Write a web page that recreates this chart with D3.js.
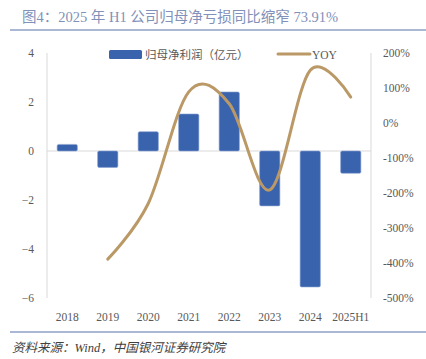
<!DOCTYPE html>
<html><head><meta charset="utf-8">
<script src="https://cdn.jsdelivr.net/npm/d3@7"></script>
<style>body{margin:0;background:#fff}svg{display:block}</style>
</head><body>
<script>
const categories = ["2018","2019","2020","2021","2022","2023","2024","2025H1"];
const profit = [0.27,-0.67,0.79,1.51,2.41,-2.24,-5.55,-0.91];
const yoy = [null,-389,-230,89,55,-191,151,74];
const leftTicks = [4,2,0,-2,-4,-6];
const rightTicks = [200,100,0,-100,-200,-300,-400,-500];

const W=426,H=359;
const svg=d3.select("body").append("svg").attr("width",W).attr("height",H);
const serif='"Liberation Serif","Noto Sans CJK SC",serif';

svg.append("text").attr("x",22).attr("y",22).attr("fill","#8291b9")
  .attr("font-family",serif).attr("font-size",14.5).text("图4：2025 年 H1 公司归母净亏损同比缩窄 73.91%");
svg.append("line").attr("x1",10).attr("x2",W).attr("y1",30).attr("y2",30).attr("stroke","#8ea0c8").attr("stroke-width",1.5);

const x=d3.scaleBand().domain(categories).range([47,371]).paddingInner(0.5).paddingOuter(0.25);
const y=d3.scaleLinear().domain([-6,4]).range([298,53]);
const y2=d3.scaleLinear().domain([-500,200]).range([298,53]);

// axis lines
svg.append("line").attr("x1",47).attr("x2",47).attr("y1",53).attr("y2",298).attr("stroke","#d9d9d9");
svg.append("line").attr("x1",371).attr("x2",371).attr("y1",53).attr("y2",298).attr("stroke","#d9d9d9");
svg.append("line").attr("x1",47).attr("x2",371).attr("y1",y(0)).attr("y2",y(0)).attr("stroke","#d9d9d9");

const lAxis=svg.append("g").attr("transform","translate(34,0)")
  .call(d3.axisLeft(y).tickValues(leftTicks).tickSize(0).tickPadding(0).tickFormat(d3.format("d")));
const rAxis=svg.append("g").attr("transform","translate(383,0)")
  .call(d3.axisRight(y2).tickValues(rightTicks).tickSize(0).tickPadding(0).tickFormat(d=>d+"%"));
const xAxis=svg.append("g").attr("transform","translate(0,305)")
  .call(d3.axisBottom(x).tickSize(0).tickPadding(8));
[lAxis,rAxis,xAxis].forEach(g=>{g.select(".domain").remove();
  g.selectAll("text").attr("font-family",serif).attr("font-size",11.5).attr("fill","#595959");});

svg.append("g").selectAll("rect").data(profit).join("rect")
  .attr("x",(d,i)=>x(categories[i])).attr("width",x.bandwidth())
  .attr("y",d=>y(Math.max(0,d))).attr("height",d=>Math.abs(y(d)-y(0)))
  .attr("rx",1.5).attr("fill","#3a63ae").attr("stroke","#8aa3d3").attr("stroke-width",0.6);

const line=d3.line().defined(d=>d!=null)
  .x((d,i)=>x(categories[i])+x.bandwidth()/2).y(d=>y2(d)).curve(d3.curveCardinal.tension(0));
svg.append("path").datum(yoy).attr("d",line).attr("fill","none").attr("stroke","#bb9966").attr("stroke-width",3).attr("stroke-linecap","round");

// legend
svg.append("rect").attr("x",109).attr("y",50).attr("width",33).attr("height",9).attr("rx",1.5).attr("fill","#3a63ae");
svg.append("text").attr("x",145).attr("y",58.5).attr("font-family",serif).attr("font-size",11.5).attr("fill","#595959").text("归母净利润（亿元）");
svg.append("line").attr("x1",278).attr("x2",310).attr("y1",54).attr("y2",54).attr("stroke","#bb9966").attr("stroke-width",3).attr("stroke-linecap","round");
svg.append("text").attr("x",312).attr("y",58.5).attr("font-family",serif).attr("font-size",11.5).attr("fill","#595959").text("YOY");

svg.append("line").attr("x1",10).attr("x2",W).attr("y1",332).attr("y2",332).attr("stroke","#8ea0c8").attr("stroke-width",1.5);
svg.append("text").attr("x",12).attr("y",352).attr("font-family",serif).attr("font-style","italic").attr("font-size",12.5).attr("fill","#404040").text("资料来源：Wind，中国银河证券研究院");
</script>
</body></html>
